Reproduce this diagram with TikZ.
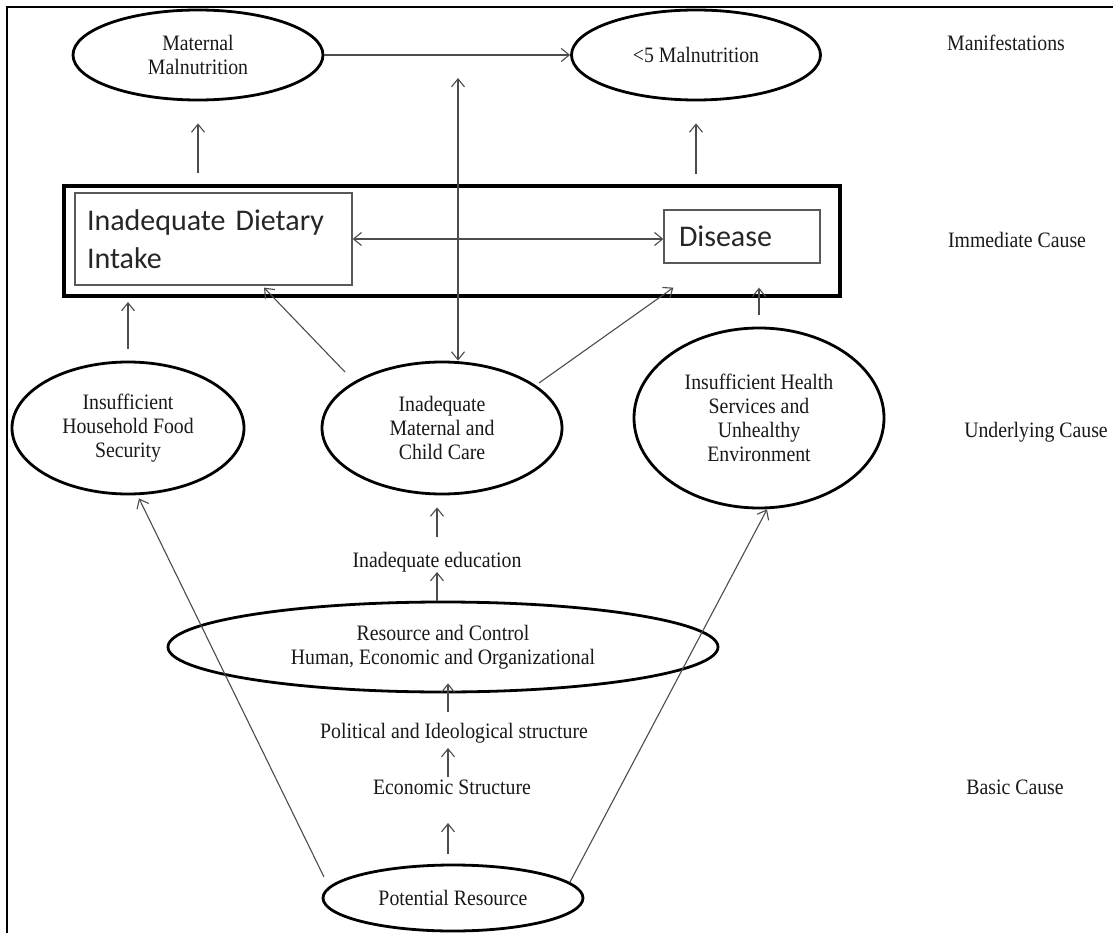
\documentclass[tikz,border=0pt]{standalone}
\usepackage{fontspec}
\setmainfont[FakeStretch=0.9]{Liberation Serif}
\newfontfamily\calib{Carlito}
\usetikzlibrary{shapes.geometric,arrows.meta,calc}
\begin{document}
\begin{tikzpicture}[x=1pt,y=-1pt,
  txt/.style={font=\fontsize{22}{24}\selectfont, inner sep=0pt, align=center, text=black!90},
  ell/.style={txt, draw=black, ellipse, line width=2.8pt},
  sbox/.style={draw=black!65, line width=1.3pt, rectangle, inner sep=0pt, font=\calib\fontsize{30}{38}\selectfont, align=left, text=black!85},
  arr/.style={draw=black!70, line width=1.1pt, -{Straight Barb[length=8pt,width=13pt]}},
  darr/.style={draw=black!70, line width=1.1pt, {Straight Barb[length=8pt,width=13pt]}-{Straight Barb[length=8pt,width=13pt]}},
]
\useasboundingbox (0,0) rectangle (1113,933);
\fill[white] (0,0) rectangle (1113,933);
\draw[line width=2pt] (7,933) -- (7,7) -- (1113,7);

% manifestations
\node[ell, minimum width=250pt, minimum height=90pt] (mm) at (198,55) {Maternal\\Malnutrition};
\node[ell, minimum width=249pt, minimum height=90pt] (u5) at (696,55) {<5 Malnutrition};

% immediate cause
\node[draw=black, line width=4pt, rectangle, minimum width=776pt, minimum height=110pt, inner sep=0pt] (imm) at (452,241) {};
\node[sbox, minimum width=277pt, minimum height=92pt, text width=253pt] (diet) at (213.5,239) {Inadequate Dietary\\Intake};
\node[sbox, minimum width=156pt, minimum height=53pt, text width=126pt] (dis) at (742,236.5) {Disease};

% underlying
\node[ell, minimum width=232pt, minimum height=132pt] (hfs) at (128,428) {Insufficient\\Household Food\\Security};
\node[ell, minimum width=240pt, minimum height=132pt] (mcc) at (442,428) {Inadequate\\Maternal and\\Child Care};
\node[ell, minimum width=250pt, minimum height=180pt] (hs) at (759,418) {Insufficient Health\\Services and\\Unhealthy\\Environment};

% basic
\node[txt] (edu) at (437,562) {Inadequate education};
\node[ell, minimum width=550pt, minimum height=90pt] (rc) at (443,647) {Resource and Control\\Human, Economic and Organizational};
\node[txt] (pol) at (454,733) {Political and Ideological structure};
\node[txt] (eco) at (452,787) {Economic Structure};
\node[ell, minimum width=260pt, minimum height=66pt] (pot) at (453,898) {Potential Resource};

% level labels
\node[txt] (lman) at (1006,43) {Manifestations};
\node[txt] (limm) at (1017,240) {Immediate Cause};
\node[txt] (lund) at (1036,432) {Underlying Cause};
\node[txt] (lbas) at (1015,787) {Basic Cause};

% axes for vertical chains
\coordinate (ax1) at (448,0);
\coordinate (ax2) at (437,0);
\coordinate (dtop) at (458,78);

% connectors
\draw[arr] (mm) -- (u5);
\draw[arr, shorten <=11pt, shorten >=22pt] (imm.north -| mm) -- (mm.south);
\draw[arr, shorten <=10pt, shorten >=22pt] (imm.north -| u5) -- (u5.south);
\draw[darr] (dtop) -- (dtop |- mcc.north);
\draw[darr] (diet.east) -- (diet.east -| dis.west);
\draw[arr, shorten <=12pt, shorten >=4pt] (hfs.north) -- (hfs.north |- imm.south);
\draw[arr] ($(mcc.center)+(-97,-56)$) -- ($(diet.south)+(50.5,2)$);
\draw[arr] ($(mcc.center)+(97,-45)$) -- ($(dis.south west)+(10,24)$);
\draw[arr, shorten <=12pt, shorten >=24pt] (hs.north) -- (hs.north |- dis.south);

\draw[arr] (ax2 |- rc.north) -- ($(ax2 |- edu)+(0,10)$);
\draw[arr] ($(ax2 |- edu)+(0,-25)$) -- ($(ax2 |- mcc.south)+(0,12)$);
\draw[arr] ($(ax1 |- pol)+(0,-21)$) -- ($(ax1 |- rc.south)+(0,-10)$);
\draw[arr] ($(ax1 |- eco)+(0,-10)$) -- ($(ax1 |- pol)+(0,15)$);
\draw[arr] ($(ax1 |- pot.north)+(0,-10)$) -- ($(ax1 |- eco)+(0,36)$);

\draw[arr] ($(pot.center)+(-129,-21)$) -- ($(hfs.south)+(11,3)$);
\draw[arr] ($(pot.center)+(117,-16)$) -- ($(hs.south)+(8,0)$);
\end{tikzpicture}
\end{document}
